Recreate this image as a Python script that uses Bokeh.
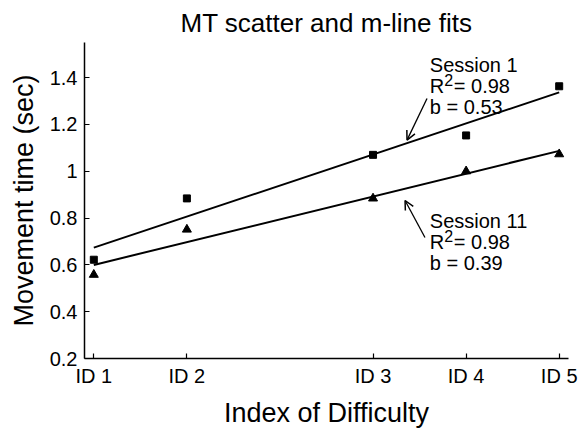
import numpy as np
from bokeh.plotting import figure
from bokeh.models import FixedTicker, CustomJSTickFormatter, Arrow, OpenHead, Range1d
from bokeh.core.properties import value
from bokeh.embed import file_html
from bokeh.resources import INLINE

# ---- data ----
id_pos = [1, 2, 4, 5, 6]
id_labels = ["ID 1", "ID 2", "ID 3", "ID 4", "ID 5"]
session1_mt = [0.622, 0.884, 1.070, 1.153, 1.363]
session11_mt = [0.558, 0.751, 0.884, 1.000, 1.073]
y_ticks = [0.2, 0.4, 0.6, 0.8, 1.0, 1.2, 1.4]
session_names = ["Session 1", "Session 11"]
r2_values = ["0.98", "0.98"]
b_values = ["0.53", "0.39"]

FONT = "Liberation Sans"

p = figure(width=581, height=430, output_backend="svg", toolbar_location=None,
           x_range=Range1d(0.90, 6.10), y_range=Range1d(0.2, 1.55),
           min_border_left=84, min_border_right=13, min_border_top=40, min_border_bottom=65)
p.outline_line_color = None
p.xgrid.visible = False
p.ygrid.visible = False
p.background_fill_color = "white"
p.border_fill_color = "white"

p.title.text = "MT scatter and m-line fits"
p.title.text_font = FONT
p.title.text_font_size = "26px"
p.title.text_font_style = "normal"
p.title.align = "center"
p.title.text_color = "black"

for ax in (p.xaxis[0], p.yaxis[0]):
    ax.axis_line_color = "black"
    ax.axis_line_width = 1.5
    ax.major_tick_in = 5
    ax.major_tick_out = 0
    ax.minor_tick_line_color = None
    ax.major_tick_line_color = "black"
    ax.major_tick_line_width = 1.2
    ax.major_label_text_font = FONT
    ax.major_label_text_font_size = "20px"
    ax.major_label_text_color = "black"
    ax.axis_label_text_font = FONT
    ax.axis_label_text_font_size = "27px"
    ax.axis_label_text_font_style = "normal"
    ax.axis_label_text_color = "black"

p.xaxis.ticker = FixedTicker(ticks=id_pos)
p.xaxis.major_label_overrides = {k: v for k, v in zip(id_pos, id_labels)}
p.xaxis.axis_label = "Index of Difficulty"
p.xaxis.major_label_standoff = 6
p.xaxis.axis_label_standoff = 8

p.yaxis.ticker = FixedTicker(ticks=y_ticks)
p.yaxis.formatter = CustomJSTickFormatter(code="return Number(tick.toFixed(2)).toString();")
p.yaxis.axis_label = "Movement time (sec)"
p.yaxis.major_label_standoff = 7
p.yaxis.axis_label_standoff = 8

# fit lines (least squares from the data)
xs = np.array([id_pos[0], id_pos[-1]], dtype=float)
for ys in (session1_mt, session11_mt):
    m, c = np.polyfit(id_pos, ys, 1)
    p.line(xs, m * xs + c, line_color="black", line_width=2)

p.scatter(id_pos, session1_mt, marker="square", size=7, color="black")
p.scatter(id_pos, session11_mt, marker="triangle", size=9, color="black")

# annotations
tx = 4.61
ann_y = [(1.454, 1.363, 1.276), (0.788, 0.696, 0.609)]
txt = dict(text_font=value(FONT), text_color="black", text_baseline="alphabetic", text_align="left")
for name, r2, b, (y1, y2, y3) in zip(session_names, r2_values, b_values, ann_y):
    p.text([tx], [y1], text=[name], text_font_size="20px", **txt)
    p.text([tx], [y2], text=["R"], text_font_size="20px", **txt)
    p.text([tx], [y2], text=["2"], text_font_size="16px", x_offset=14.5, y_offset=-6, **txt)
    p.text([tx], [y2], text=["= " + r2], text_font_size="20px", x_offset=24, **txt)
    p.text([tx], [y3], text=["b = " + b], text_font_size="20px", **txt)

p.add_layout(Arrow(end=OpenHead(size=9, line_color="black", line_width=1.5),
                   x_start=4.58, y_start=1.311, x_end=4.365, y_end=1.133,
                   line_color="black", line_width=1.3))
p.add_layout(Arrow(end=OpenHead(size=9, line_color="black", line_width=1.5),
                   x_start=4.558, y_start=0.717, x_end=4.344, y_end=0.875,
                   line_color="black", line_width=1.3))

open("out.html", "w").write(file_html(p, INLINE))
